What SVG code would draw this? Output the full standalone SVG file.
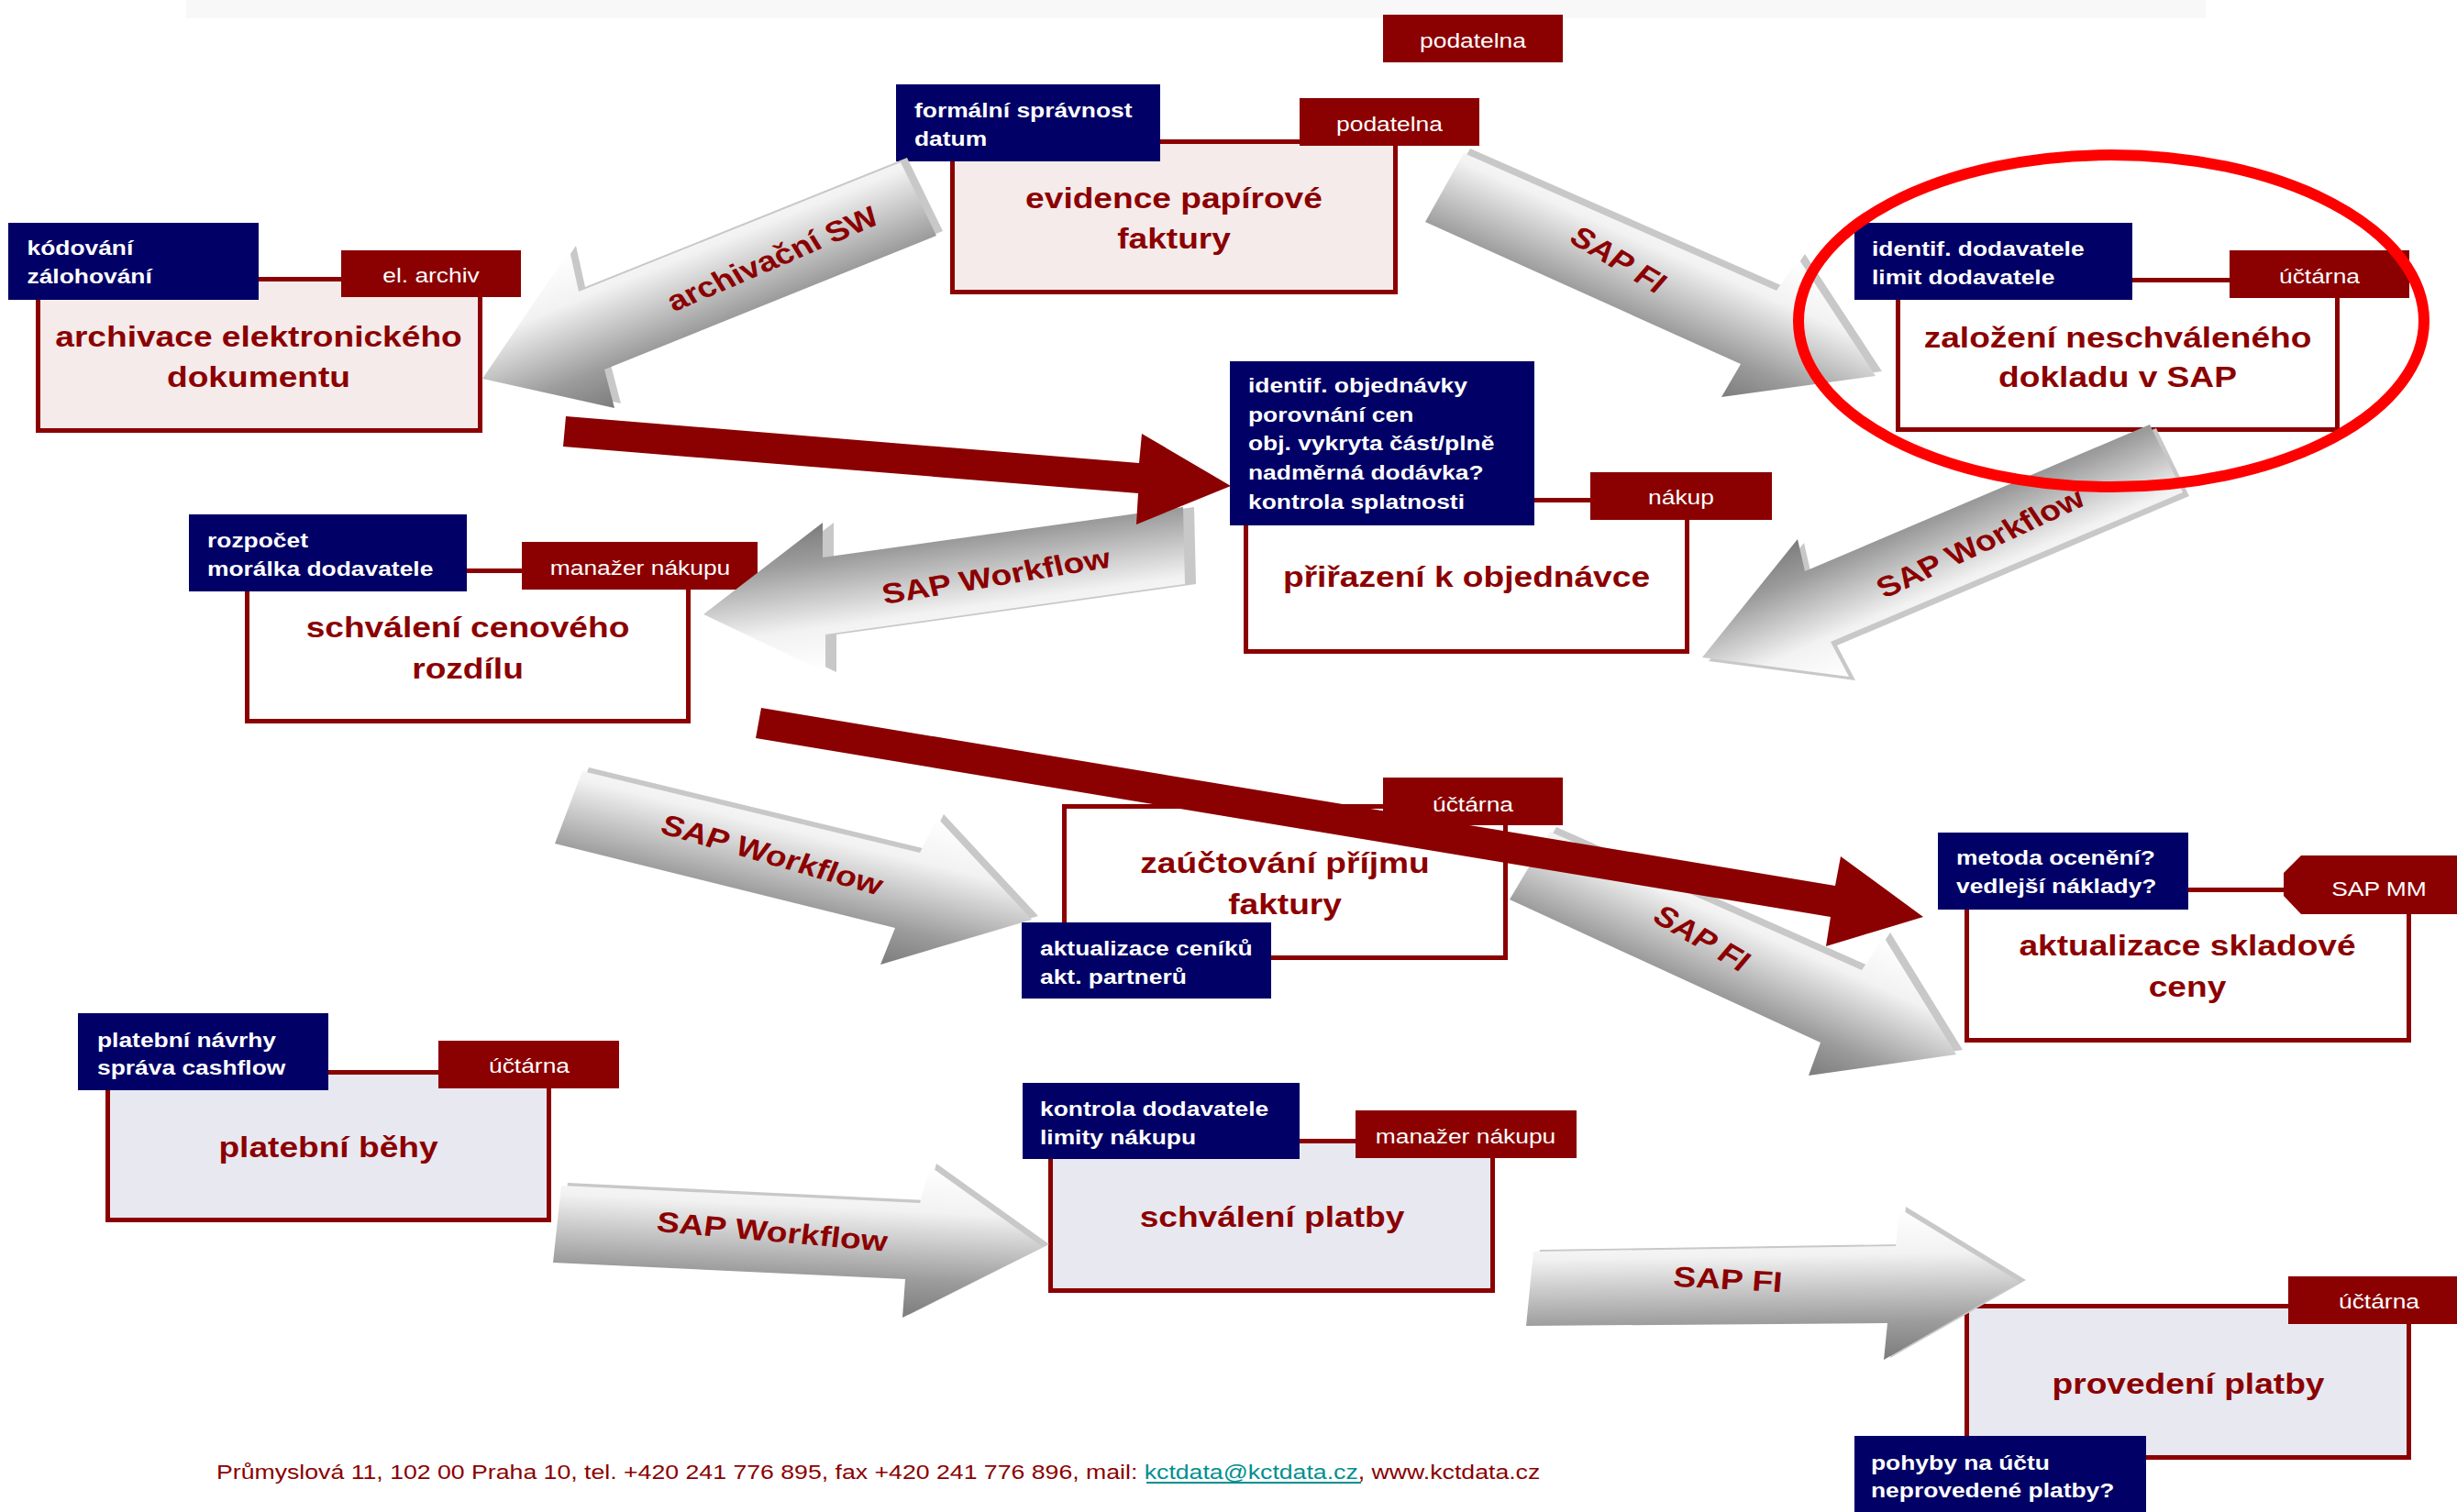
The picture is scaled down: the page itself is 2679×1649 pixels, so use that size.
<svg xmlns="http://www.w3.org/2000/svg" width="2679" height="1649" viewBox="0 0 2679 1649">
<style>
.nb{fill:#000066}
.rb{fill:#8B0000}
.box{stroke:#8B0000;stroke-width:5}
.pink{fill:#F5EBEB}
.wh{fill:#FFFFFF}
.lav{fill:#E8E8F1}
.t{font-family:"Liberation Sans",Arial,sans-serif}
.lbl{font-size:22px;font-weight:bold;fill:#FFFFFF}
.role{font-size:22px;fill:#FFFFFF;text-anchor:middle}
.title{font-size:32px;font-weight:bold;fill:#8B0000;text-anchor:middle}
.alab{font-size:31px;font-weight:bold;fill:#8B0000;text-anchor:middle;dominant-baseline:central}
.ext{fill:#C8C8C8}
.red{fill:#8B0000}
</style>
<defs>
<linearGradient id="gs"><stop offset="0" stop-color="#FFFFFF"/><stop offset="0.3" stop-color="#F2F2F2"/><stop offset="0.75" stop-color="#9C9C9C"/><stop offset="1" stop-color="#7C7C7C"/></linearGradient>
<linearGradient id="g1" href="#gs" gradientUnits="userSpaceOnUse" x1="621" y1="273" x2="687.4" y2="438.1"/>
<linearGradient id="g2" href="#gs" gradientUnits="userSpaceOnUse" x1="1961" y1="282" x2="1891.7" y2="439.5"/>
<linearGradient id="g3" href="#gs" gradientUnits="userSpaceOnUse" x1="2016" y1="738" x2="1953.4" y2="590.9"/>
<linearGradient id="g4" href="#gs" gradientUnits="userSpaceOnUse" x1="900" y1="733" x2="877.6" y2="572.7"/>
<linearGradient id="g5" href="#gs" gradientUnits="userSpaceOnUse" x1="1022" y1="892" x2="982" y2="1057.2"/>
<linearGradient id="g6" href="#gs" gradientUnits="userSpaceOnUse" x1="1014" y1="1272" x2="1005.9" y2="1438.1"/>
<linearGradient id="g7" href="#gs" gradientUnits="userSpaceOnUse" x1="2054" y1="1022" x2="1984.5" y2="1178.6"/>
<linearGradient id="g8" href="#gs" gradientUnits="userSpaceOnUse" x1="2071" y1="1318" x2="2073.5" y2="1482.7"/>
</defs>
<rect x="0" y="0" width="2679" height="1649" fill="#FFFFFF"/>
<rect x="203" y="0" width="2202" height="20" fill="#F8F8F8"/>

<g id="label-podatelna-top">
<rect class="rb" x="1508" y="16" width="196" height="52"/>
<text class="t role" transform="translate(1606,52) scale(1.2,1)">podatelna</text>
</g>

<g id="node-archivace">
<rect class="box pink" x="41.5" y="304.5" width="482" height="165"/>
<rect class="nb" x="9" y="243" width="273" height="84"/>
<text class="t lbl" transform="translate(29.5,278) scale(1.2,1)"><tspan x="0">kódování</tspan><tspan x="0" dy="31.5">zálohování</tspan></text>
<rect class="rb" x="372" y="273" width="196" height="51"/>
<text class="t role" transform="translate(470,308) scale(1.2,1)">el. archiv</text>
<text class="t title" transform="translate(282,378) scale(1.16,1)"><tspan x="0">archivace elektronického</tspan><tspan x="0" dy="44">dokumentu</tspan></text>
</g>

<g id="node-evidence">
<rect class="box pink" x="1038.5" y="154.5" width="483" height="164"/>
<rect class="nb" x="977" y="92" width="288" height="84"/>
<text class="t lbl" transform="translate(997,128) scale(1.2,1)"><tspan x="0">formální správnost</tspan><tspan x="0" dy="31.5">datum</tspan></text>
<rect class="rb" x="1417" y="107" width="196" height="52"/>
<text class="t role" transform="translate(1515,143) scale(1.2,1)">podatelna</text>
<text class="t title" transform="translate(1280,227) scale(1.16,1)"><tspan x="0">evidence papírové</tspan><tspan x="0" dy="44">faktury</tspan></text>
</g>

<g id="node-zalozeni">
<rect class="box wh" x="2069.5" y="305.5" width="479" height="163"/>
<rect class="nb" x="2022" y="243" width="303" height="84"/>
<text class="t lbl" transform="translate(2041,279) scale(1.2,1)"><tspan x="0">identif. dodavatele</tspan><tspan x="0" dy="31.5">limit dodavatele</tspan></text>
<rect class="rb" x="2431" y="273" width="196" height="52"/>
<text class="t role" transform="translate(2529,309) scale(1.2,1)">účtárna</text>
<text class="t title" transform="translate(2309,379) scale(1.16,1)"><tspan x="0">založení neschváleného</tspan><tspan x="0" dy="43">dokladu v SAP</tspan></text>
</g>

<g id="node-prirazeni">
<rect class="box wh" x="1358.5" y="545.5" width="481" height="165"/>
<rect class="nb" x="1341" y="394" width="332" height="179"/>
<text class="t lbl" transform="translate(1361,428) scale(1.2,1)"><tspan x="0">identif. objednávky</tspan><tspan x="0" dy="31.75">porovnání cen</tspan><tspan x="0" dy="31.75">obj. vykryta část/plně</tspan><tspan x="0" dy="31.75">nadměrná dodávka?</tspan><tspan x="0" dy="31.75">kontrola splatnosti</tspan></text>
<rect class="rb" x="1734" y="515" width="198" height="52"/>
<text class="t role" transform="translate(1833,550) scale(1.2,1)">nákup</text>
<text class="t title" transform="translate(1599,640) scale(1.16,1)">přiřazení k objednávce</text>
</g>

<g id="node-schvaleni-ceny">
<rect class="box wh" x="269.5" y="622.5" width="481" height="164"/>
<rect class="nb" x="206" y="561" width="303" height="84"/>
<text class="t lbl" transform="translate(226,597) scale(1.2,1)"><tspan x="0">rozpočet</tspan><tspan x="0" dy="31.5">morálka dodavatele</tspan></text>
<rect class="rb" x="569" y="591" width="257" height="52"/>
<text class="t role" transform="translate(698,627) scale(1.2,1)">manažer nákupu</text>
<text class="t title" transform="translate(510,695) scale(1.16,1)"><tspan x="0">schválení cenového</tspan><tspan x="0" dy="45">rozdílu</tspan></text>
</g>

<g id="node-zauctovani">
<rect class="box wh" x="1160.5" y="879.5" width="481" height="165"/>
<rect class="rb" x="1508" y="848" width="196" height="52"/>
<text class="t role" transform="translate(1606,885) scale(1.2,1)">účtárna</text>
<rect class="nb" x="1114" y="1006" width="272" height="83"/>
<text class="t lbl" transform="translate(1134,1042) scale(1.2,1)"><tspan x="0">aktualizace ceníků</tspan><tspan x="0" dy="31.5">akt. partnerů</tspan></text>
<text class="t title" transform="translate(1401,952) scale(1.16,1)"><tspan x="0">zaúčtování příjmu</tspan><tspan x="0" dy="45">faktury</tspan></text>
</g>

<g id="node-aktualizace-ceny">
<rect class="box wh" x="2144.5" y="970.5" width="482" height="164"/>
<rect class="nb" x="2113" y="908" width="273" height="84"/>
<text class="t lbl" transform="translate(2133,943) scale(1.2,1)"><tspan x="0">metoda ocenění?</tspan><tspan x="0" dy="31.5">vedlejší náklady?</tspan></text>
<polygon class="rb" points="2509,933 2679,933 2679,997 2509,997 2490,977 2490,952"/>
<text class="t role" transform="translate(2594,977) scale(1.2,1)">SAP MM</text>
<text class="t title" transform="translate(2385,1042) scale(1.16,1)"><tspan x="0">aktualizace skladové</tspan><tspan x="0" dy="45">ceny</tspan></text>
</g>

<g id="node-platebni-behy">
<rect class="box lav" x="117.5" y="1169.5" width="481" height="161"/>
<rect class="nb" x="85" y="1105" width="273" height="84"/>
<text class="t lbl" transform="translate(106,1142) scale(1.2,1)"><tspan x="0">platební návrhy</tspan><tspan x="0" dy="30.5">správa cashflow</tspan></text>
<rect class="rb" x="478" y="1135" width="197" height="52"/>
<text class="t role" transform="translate(577,1170) scale(1.2,1)">účtárna</text>
<text class="t title" transform="translate(358,1262) scale(1.16,1)">platební běhy</text>
</g>

<g id="node-schvaleni-platby">
<rect class="box lav" x="1145.5" y="1244.5" width="482" height="163"/>
<rect class="nb" x="1115" y="1181" width="302" height="83"/>
<text class="t lbl" transform="translate(1134,1217) scale(1.2,1)"><tspan x="0">kontrola dodavatele</tspan><tspan x="0" dy="31.5">limity nákupu</tspan></text>
<rect class="rb" x="1478" y="1211" width="241" height="52"/>
<text class="t role" transform="translate(1598,1247) scale(1.2,1)">manažer nákupu</text>
<text class="t title" transform="translate(1387,1338) scale(1.16,1)">schválení platby</text>
</g>

<g id="node-provedeni-platby">
<rect class="box lav" x="2144.5" y="1424.5" width="482" height="165"/>
<rect class="rb" x="2495" y="1392" width="184" height="52"/>
<text class="t role" transform="translate(2594,1427) scale(1.2,1)">účtárna</text>
<rect class="nb" x="2022" y="1566" width="318" height="83"/>
<text class="t lbl" transform="translate(2040,1603) scale(1.2,1)"><tspan x="0">pohyby na účtu</tspan><tspan x="0" dy="30">neprovedené platby?</tspan></text>
<text class="t title" transform="translate(2386,1520) scale(1.16,1)">provedení platby</text>
</g>

<g id="connectors">
<g id="arrow-archivacni-sw">
<polygon class="ext" transform="translate(7,-5)" points="982,177 631,318 621,273 526,413 670,445 659,403 1021,257"/>
<polygon fill="url(#g1)" points="982,177 631,318 621,273 526,413 670,445 659,403 1021,257"/>
<text class="t alab" transform="translate(842,282) scale(1.2,1) rotate(-27.3)">archivační SW</text>
</g>
<g id="arrow-sapfi-1">
<polygon class="ext" transform="translate(7,-5)" points="1596,167 1937,317 1961,282 2045,410 1877,433 1898,397 1554,242"/>
<polygon fill="url(#g2)" points="1596,167 1937,317 1961,282 2045,410 1877,433 1898,397 1554,242"/>
<text class="t alab" transform="translate(1765,283) scale(1.2,1) rotate(35.8)">SAP FI</text>
</g>
<g id="arrow-sapwf-1">
<polygon class="ext" transform="translate(7,4)" points="2344,463 1968,623 1960,588 1856,717 2016,738 1996,700 2380,537"/>
<polygon fill="url(#g3)" points="2344,463 1968,623 1960,588 1856,717 2016,738 1996,700 2380,537"/>
<text class="t alab" transform="translate(2159,592) scale(1.2,1) rotate(-29.2)">SAP Workflow</text>
</g>
<g id="arrow-sapwf-2">
<polygon class="ext" transform="translate(12,0)" points="1290,553 897,608 897,570 767,670 900,733 900,692 1292,637"/>
<polygon fill="url(#g4)" points="1290,553 897,608 897,570 767,670 900,733 900,692 1292,637"/>
<text class="t alab" transform="translate(1086,628) scale(1.2,1) rotate(-11.2)">SAP Workflow</text>
</g>
<g id="arrow-sapwf-3">
<polygon class="ext" transform="translate(7,-4)" points="635,841 1003,930 1022,892 1125,1003 960,1052 976,1012 605,920"/>
<polygon fill="url(#g5)" points="635,841 1003,930 1022,892 1125,1003 960,1052 976,1012 605,920"/>
<text class="t alab" transform="translate(842,932) scale(1.2,1) rotate(19)">SAP Workflow</text>
</g>
<g id="arrow-sapwf-4">
<polygon class="ext" transform="translate(7,-3)" points="612,1293 1003,1312 1014,1272 1137,1360 984,1437 987,1395 603,1377"/>
<polygon fill="url(#g6)" points="612,1293 1003,1312 1014,1272 1137,1360 984,1437 987,1395 603,1377"/>
<text class="t alab" transform="translate(842,1343) scale(1.2,1) rotate(6)">SAP Workflow</text>
</g>
<g id="arrow-sapfi-2">
<polygon class="ext" transform="translate(7,-5)" points="1690,907 2030,1058 2054,1022 2133,1150 1972,1173 1985,1137 1646,981"/>
<polygon fill="url(#g7)" points="1690,907 2030,1058 2054,1022 2133,1150 1972,1173 1985,1137 1646,981"/>
<text class="t alab" transform="translate(1856,1023) scale(1.2,1) rotate(35.2)">SAP FI</text>
</g>
<g id="arrow-sapfi-3">
<polygon class="ext" transform="translate(7,-2)" points="1672,1365 2067,1359 2071,1318 2202,1398 2054,1483 2058,1443 1664,1446"/>
<polygon fill="url(#g8)" points="1672,1365 2067,1359 2071,1318 2202,1398 2054,1483 2058,1443 1664,1446"/>
<text class="t alab" transform="translate(1884,1395) scale(1.2,1) rotate(3.6)">SAP FI</text>
</g>
<polygon id="arrow-red-1" class="red" points="617,454 1242,505 1245,473 1342,530 1239,572 1241,538 614,487"/>
<polygon id="arrow-red-2" class="red" points="830,772 2001,966 2007,934 2097,1000 1991,1032 1996,1000 824,805"/>
</g>

<ellipse id="highlight" cx="2302" cy="350" rx="341" ry="181" fill="none" stroke="#FF0000" stroke-width="12"/>

<g id="footer">
<text class="t" font-size="22" fill="#8B0000" transform="translate(236,1613) scale(1.212,1)">Průmyslová 11, 102 00 Praha 10, tel. +420 241 776 895, fax +420 241 776 896, mail: <tspan fill="#008F8F">kctdata@kctdata.cz</tspan>, www.kctdata.cz</text>
<line x1="1250" y1="1617" x2="1484" y2="1617" stroke="#008F8F" stroke-width="2"/>
</g>
</svg>
